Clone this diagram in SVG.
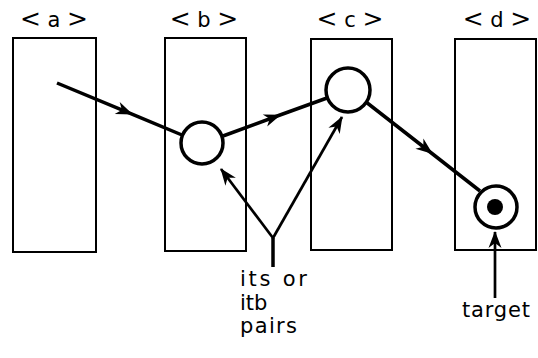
<svg xmlns="http://www.w3.org/2000/svg" width="538" height="358" viewBox="0 0 538 358">
<style>
.box{fill:none;stroke:#000;stroke-width:2}
.node{fill:#fff;stroke:#000;stroke-width:3.5}
.edge{fill:none;stroke:#000;stroke-width:3.5}
.thin{fill:none;stroke:#000;stroke-width:2.7}
text{font-family:"DejaVu Sans","Liberation Sans",Arial,sans-serif;font-size:21px;fill:#000}
.br{font-size:25px}
</style>
<defs>
<marker id="ah" viewBox="-18 -8 20 16" refX="0" refY="0" markerWidth="20" markerHeight="16" markerUnits="userSpaceOnUse" orient="auto">
<path d="M1,0 L-16,-6.5 L-11,0 L-16,6.5 Z" fill="#000"/>
</marker>
</defs>
<g id="col-a"><rect class="box" x="13" y="38" width="83" height="214"/><text x="54" y="27" text-anchor="middle"><tspan class="br">&lt;</tspan> a <tspan class="br">&gt;</tspan></text></g>
<g id="col-b"><rect class="box" x="165" y="38" width="81" height="213"/><text x="204" y="27" text-anchor="middle"><tspan class="br">&lt;</tspan> b <tspan class="br">&gt;</tspan></text></g>
<g id="col-c"><rect class="box" x="311" y="39" width="81" height="211"/><text x="350" y="27" text-anchor="middle"><tspan class="br">&lt;</tspan> c <tspan class="br">&gt;</tspan></text></g>
<g id="col-d"><rect class="box" x="455" y="39" width="81" height="211"/><text x="497" y="27" text-anchor="middle"><tspan class="br">&lt;</tspan> d <tspan class="br">&gt;</tspan></text></g>
<g id="connectors">
<polyline class="edge" points="57,83 132,114.2 182,135" marker-mid="url(#ah)"/>
<polyline class="edge" points="223,136 280,115 327,98" marker-mid="url(#ah)"/>
<polyline class="edge" points="366,102 432,153.5 480,191" marker-mid="url(#ah)"/>
<line class="edge" x1="273" y1="267" x2="273" y2="238"/>
<line class="thin" x1="273" y1="238" x2="221" y2="169" marker-end="url(#ah)"/>
<line class="thin" x1="273" y1="238" x2="342" y2="117" marker-end="url(#ah)"/>
<line class="thin" x1="495" y1="298" x2="495" y2="232" marker-end="url(#ah)"/>
</g>
<g id="node-b"><circle class="node" cx="202" cy="143" r="21"/></g>
<g id="node-c"><circle class="node" cx="348" cy="90" r="22"/></g>
<g id="node-d"><circle class="node" cx="496" cy="207" r="21"/><circle cx="495" cy="207" r="8" fill="#000"/></g>
<g id="label-pairs">
<text x="240" y="286" textLength="67" lengthAdjust="spacing">its  or</text>
<text x="240" y="310">itb</text>
<text x="240" y="333" textLength="57" lengthAdjust="spacing">pairs</text>
</g>
<g id="label-target"><text x="462" y="317" textLength="68" lengthAdjust="spacing">target</text></g>
</svg>
